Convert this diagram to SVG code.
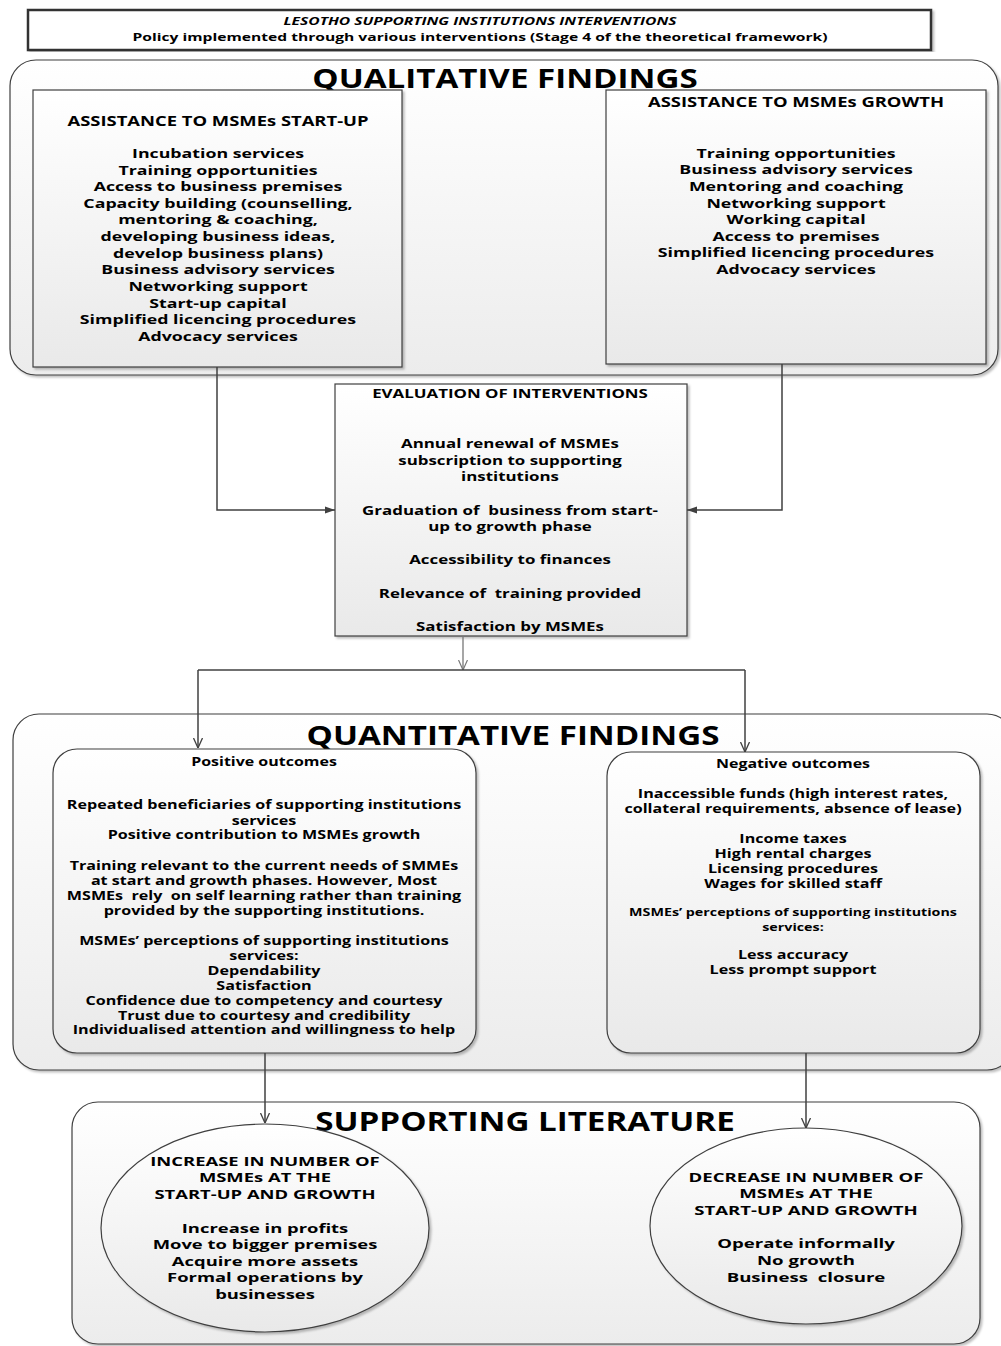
<svg xmlns="http://www.w3.org/2000/svg" width="1001" height="1346" viewBox="0 0 1001 1346">
<style>
text{font-family:"Open Sans","DejaVu Sans",sans-serif;font-weight:bold;fill:#000;text-anchor:middle}
.b{font-size:13px}
.bt{font-size:14px}
.s{font-size:12.4px}
.h{font-size:11px}
.sm{font-size:11px}
.st{font-size:12.3px}
.ttl{font-size:26.5px}
.box{stroke:#3f3f3f;stroke-width:1.2;fill:url(#g1);filter:url(#sh)}
.outer{stroke:#3f3f3f;stroke-width:1.2;fill:url(#g2);filter:url(#sh)}
.ln{fill:none;stroke:#404040;stroke-width:1.5}
</style>
<defs>
<linearGradient id="g1" x1="0" y1="0" x2="0" y2="1"><stop offset="0" stop-color="#ffffff"/><stop offset="1" stop-color="#e9e9e9"/></linearGradient>
<linearGradient id="g2" x1="0" y1="0" x2="0" y2="1"><stop offset="0" stop-color="#ffffff"/><stop offset="1" stop-color="#ececec"/></linearGradient>
<filter id="sh" x="-5%" y="-5%" width="110%" height="110%"><feDropShadow dx="2" dy="2" stdDeviation="1.2" flood-color="#000" flood-opacity="0.25"/></filter>
<marker id="af" viewBox="0 0 10 10" refX="10" refY="5" markerWidth="10" markerHeight="10" markerUnits="userSpaceOnUse" orient="auto"><path d="M0,1.5 L10,5 L0,8.5 Z" fill="#404040"/></marker>
<marker id="ao" viewBox="0 0 10 10" refX="10" refY="5" markerWidth="10" markerHeight="10" markerUnits="userSpaceOnUse" orient="auto"><path d="M0,0.5 L10,5 L0,9.5" fill="none" stroke="#404040" stroke-width="1.3"/></marker>
<marker id="ag" viewBox="0 0 10 10" refX="10" refY="5" markerWidth="10" markerHeight="10" markerUnits="userSpaceOnUse" orient="auto"><path d="M0,0.5 L10,5 L0,9.5" fill="none" stroke="#777" stroke-width="1.2"/></marker>
</defs>
<rect width="1001" height="1346" fill="#fff"/>

<g id="header">
<rect x="28" y="10" width="903" height="40" fill="#fff" stroke="#333" stroke-width="2.5" filter="url(#sh)"/>
<g transform="translate(480 0) scale(1.42 1)">
<text class="h" x="0" y="25" font-style="italic">LESOTHO SUPPORTING INSTITUTIONS INTERVENTIONS</text>
<text class="h" x="0" y="41">Policy implemented through various interventions (Stage 4 of the theoretical framework)</text>
</g>
</g>

<g id="qualitative">
<rect class="outer" x="10" y="60" width="988" height="315" rx="26" ry="26"/>
<g transform="translate(505 0) scale(1.25 1)"><text class="ttl" x="0" y="88">QUALITATIVE FINDINGS</text></g>
</g>

<g id="startup">
<rect class="box" x="33" y="90" width="369" height="277"/>
<g transform="translate(218 0) scale(1.315 1)"><text class="bt" x="0" y="126">ASSISTANCE TO MSMEs START-UP</text></g>
<g transform="translate(218 0) scale(1.366 1)">
<text class="b" x="0" y="158">Incubation services</text>
<text class="b" x="0" y="175">Training opportunities</text>
<text class="b" x="0" y="191">Access to business premises</text>
<text class="b" x="0" y="208">Capacity building (counselling,</text>
<text class="b" x="0" y="224">mentoring &amp; coaching,</text>
<text class="b" x="0" y="241">developing business ideas,</text>
<text class="b" x="0" y="258">develop business plans)</text>
<text class="b" x="0" y="274">Business advisory services</text>
<text class="b" x="0" y="291">Networking support</text>
<text class="b" x="0" y="308">Start-up capital</text>
<text class="b" x="0" y="324">Simplified licencing procedures</text>
<text class="b" x="0" y="341">Advocacy services</text>
</g>
</g>

<g id="growth">
<rect class="box" x="606" y="90" width="380" height="274"/>
<g transform="translate(796 0) scale(1.315 1)"><text class="bt" x="0" y="107">ASSISTANCE TO MSMEs GROWTH</text></g>
<g transform="translate(796 0) scale(1.366 1)">
<text class="b" x="0" y="158">Training opportunities</text>
<text class="b" x="0" y="174">Business advisory services</text>
<text class="b" x="0" y="191">Mentoring and coaching</text>
<text class="b" x="0" y="208">Networking support</text>
<text class="b" x="0" y="224">Working capital</text>
<text class="b" x="0" y="241">Access to premises</text>
<text class="b" x="0" y="257">Simplified licencing procedures</text>
<text class="b" x="0" y="274">Advocacy services</text>
</g>
</g>

<g id="evaluation">
<rect class="box" x="335" y="384" width="352" height="252"/>
<g transform="translate(510 0) scale(1.3 1)">
<text class="b" x="0" y="398">EVALUATION OF INTERVENTIONS</text>
<text class="b" x="0" y="448">Annual renewal of MSMEs</text>
<text class="b" x="0" y="465">subscription to supporting</text>
<text class="b" x="0" y="481">institutions</text>
<text class="b" x="0" y="515" xml:space="preserve">Graduation of  business from start-</text>
<text class="b" x="0" y="531">up to growth phase</text>
<text class="b" x="0" y="564">Accessibility to finances</text>
<text class="b" x="0" y="598" xml:space="preserve">Relevance of  training provided</text>
<text class="b" x="0" y="631">Satisfaction by MSMEs</text>
</g>
</g>

<g id="quantitative">
<rect class="outer" x="13" y="714" width="1000" height="356" rx="26" ry="26"/>
<g transform="translate(513 0) scale(1.25 1)"><text class="ttl" x="0" y="745">QUANTITATIVE FINDINGS</text></g>
</g>

<g id="positive">
<rect class="box" x="53" y="749" width="423" height="304" rx="24" ry="24"/>
<g transform="translate(264 0) scale(1.3 1)">
<text class="st" x="0" y="766">Positive outcomes</text>
<text class="s" x="0" y="809">Repeated beneficiaries of supporting institutions</text>
<text class="s" x="0" y="825">services</text>
<text class="s" x="0" y="839">Positive contribution to MSMEs growth</text>
<text class="s" x="0" y="870">Training relevant to the current needs of SMMEs</text>
<text class="s" x="0" y="885">at start and growth phases. However, Most</text>
<text class="s" x="0" y="900" xml:space="preserve">MSMEs  rely  on self learning rather than training</text>
<text class="s" x="0" y="915">provided by the supporting institutions.</text>
<text class="s" x="0" y="945">MSMEs’ perceptions of supporting institutions</text>
<text class="s" x="0" y="960">services:</text>
<text class="s" x="0" y="975">Dependability</text>
<text class="s" x="0" y="990">Satisfaction</text>
<text class="s" x="0" y="1005">Confidence due to competency and courtesy</text>
<text class="s" x="0" y="1020">Trust due to courtesy and credibility</text>
<text class="s" x="0" y="1034">Individualised attention and willingness to help</text>
</g>
</g>

<g id="negative">
<rect class="box" x="607" y="752" width="373" height="301" rx="24" ry="24"/>
<g transform="translate(793 0) scale(1.3 1)">
<text class="st" x="0" y="768">Negative outcomes</text>
<text class="s" x="0" y="798">Inaccessible funds (high interest rates,</text>
<text class="s" x="0" y="813">collateral requirements, absence of lease)</text>
<text class="s" x="0" y="843">Income taxes</text>
<text class="s" x="0" y="858">High rental charges</text>
<text class="s" x="0" y="873">Licensing procedures</text>
<text class="s" x="0" y="888">Wages for skilled staff</text>
<text class="sm" x="0" y="916">MSMEs’ perceptions of supporting institutions</text>
<text class="sm" x="0" y="931">services:</text>
<text class="s" x="0" y="959">Less accuracy</text>
<text class="s" x="0" y="974">Less prompt support</text>
</g>
</g>

<g id="literature">
<rect class="outer" x="72" y="1102" width="908" height="242" rx="26" ry="26"/>
<g transform="translate(525 0) scale(1.25 1)"><text class="ttl" x="0" y="1131">SUPPORTING LITERATURE</text></g>
</g>

<g id="increase">
<ellipse cx="265" cy="1228" rx="164" ry="104" fill="url(#g1)" stroke="#3f3f3f" stroke-width="1.2" filter="url(#sh)"/>
<g transform="translate(265 0) scale(1.416 1)">
<text class="b" x="0" y="1166">INCREASE IN NUMBER OF</text>
<text class="b" x="0" y="1182">MSMEs AT THE</text>
<text class="b" x="0" y="1199">START-UP AND GROWTH</text>
<text class="b" x="0" y="1233">Increase in profits</text>
<text class="b" x="0" y="1249">Move to bigger premises</text>
<text class="b" x="0" y="1266">Acquire more assets</text>
<text class="b" x="0" y="1282">Formal operations by</text>
<text class="b" x="0" y="1299">businesses</text>
</g>
</g>

<g id="decrease">
<ellipse cx="806" cy="1226" rx="156" ry="98" fill="url(#g1)" stroke="#3f3f3f" stroke-width="1.2" filter="url(#sh)"/>
<g transform="translate(806 0) scale(1.432 1)">
<text class="b" x="0" y="1182">DECREASE IN NUMBER OF</text>
<text class="b" x="0" y="1198">MSMEs AT THE</text>
<text class="b" x="0" y="1215">START-UP AND GROWTH</text>
<text class="b" x="0" y="1248">Operate informally</text>
<text class="b" x="0" y="1265">No growth</text>
<text class="b" x="0" y="1282" xml:space="preserve">Business  closure</text>
</g>
</g>

<g id="connectors">
<path class="ln" d="M217,367 V510 H335" marker-end="url(#af)"/>
<path class="ln" d="M782,364 V510 H687" marker-end="url(#af)"/>
<path d="M463,636 V670" fill="none" stroke="#777" stroke-width="1.3" marker-end="url(#ag)"/>
<path class="ln" d="M198,670 H745"/>
<path class="ln" d="M198,670 V748" marker-end="url(#ao)"/>
<path class="ln" d="M745,670 V752" marker-end="url(#ao)"/>
<path class="ln" d="M265,1053 V1123" marker-end="url(#ao)"/>
<path class="ln" d="M806,1053 V1128" marker-end="url(#ao)"/>
</g>
</svg>
